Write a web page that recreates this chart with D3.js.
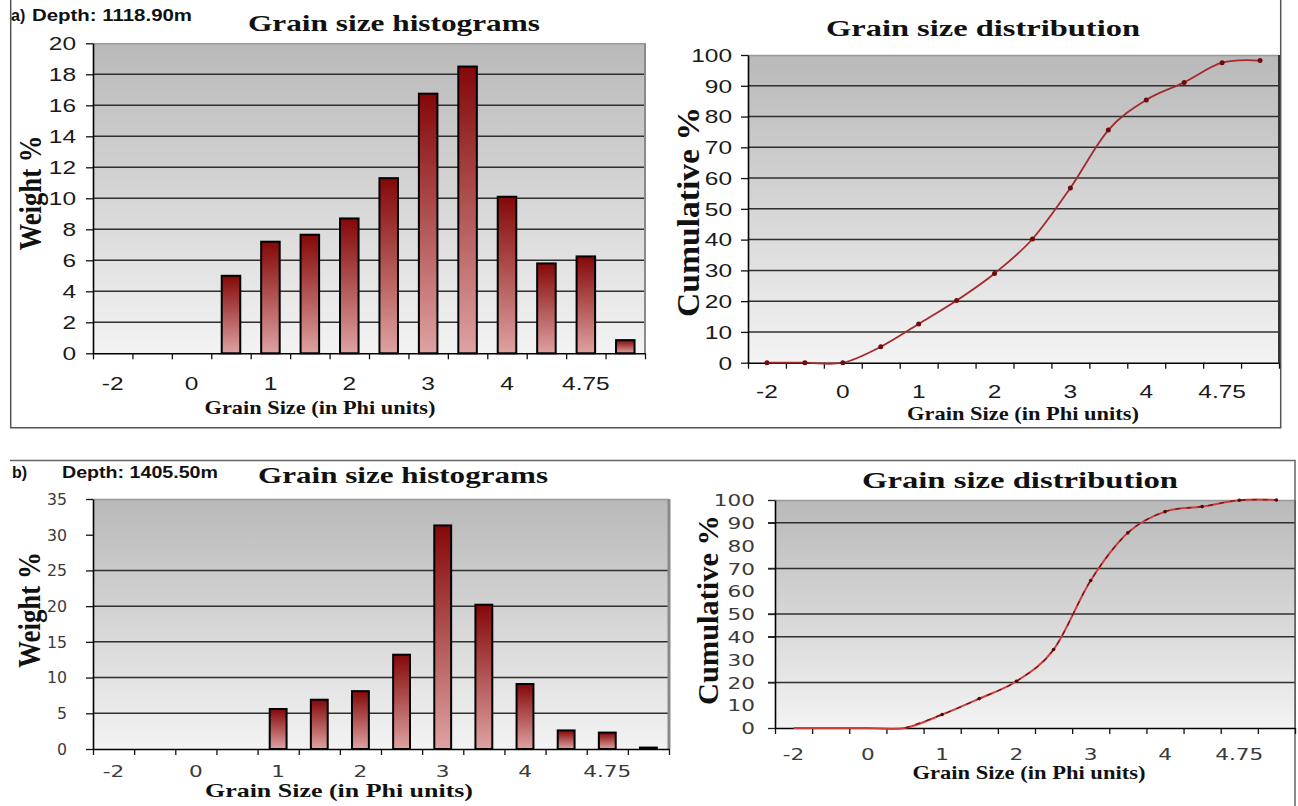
<!DOCTYPE html>
<html><head><meta charset="utf-8">
<script src="https://cdn.jsdelivr.net/npm/d3@7"></script>
<style>body{margin:0;background:#fff;} svg{display:block;}</style>
</head><body>
<svg id="fig" width="1298" height="806"></svg>
<script>
// ---------- data ----------
const categories = ["-2","-1","0","0.5","1","1.5","2","2.5","3","3.5","4","4.5","4.75","pan"];
const shownTickLabels = ["-2","0","1","2","3","4","4.75"];
const weightA = [0,0,0,5.0,7.2,7.65,8.7,11.3,16.75,18.5,10.1,5.8,6.25,0.85];
const cumulativeA = [0,0,0,5.2,12.6,20.2,29.0,40.2,56.8,75.6,85.4,91.1,97.5,98.2];
const weightB = [0,0,0,0,5.6,6.9,8.1,13.2,31.3,20.2,9.1,2.6,2.3,0.2];
const cumulativeB = [0,0,0,0,5.9,12.9,20.5,34.4,64.7,85.6,94.9,97.1,99.9,100];
const yTicksHistA = [0,2,4,6,8,10,12,14,16,18,20];
const yTicksCumA = [0,10,20,30,40,50,60,70,80,90,100];
const yTicksHistB = [0,5,10,15,20,25,30,35];
const yTicksCumB = [0,10,20,30,40,50,60,70,80,90,100];
const gridHistA = [2,4,6,8,10,12,14,16,18];
const gridCumA = [10,20,30,40,50,60,70,80,90];
const gridHistB = [5,10,15,20,25];
const gridCumB = [20,40,50,70,90];
const tickMarksCumB = [0,20,40,50,70,90,100];

const svg = d3.select("#fig");
const defs = svg.append("defs");
const bg = defs.append("linearGradient").attr("id","bgGrad").attr("x1",0).attr("y1",0).attr("x2",0).attr("y2",1);
bg.append("stop").attr("offset","0%").attr("stop-color","#b9b9b9");
bg.append("stop").attr("offset","100%").attr("stop-color","#f3f3f3");
const bgr = defs.append("linearGradient").attr("id","barGrad").attr("x1",0).attr("y1",0).attr("x2",0).attr("y2",1);
bgr.append("stop").attr("offset","0%").attr("stop-color","#840808");
bgr.append("stop").attr("offset","100%").attr("stop-color","#dfa2a2");

function stretch(sel, sx){
  sel.each(function(){
    const t = d3.select(this);
    const x = +t.attr("x")||0, y = +t.attr("y")||0;
    t.attr("x",0).attr("y",0).attr("transform",`translate(${x},${y}) scale(${sx},1)`);
  });
}

function chart(cfg){
  const g = svg.append("g").attr("transform",`translate(${cfg.left},${cfg.top})`);
  const W = cfg.width, H = cfg.height;
  const y = d3.scaleLinear().domain([0,cfg.yMax]).range([H,0]);
  g.append("rect").attr("width",W).attr("height",H).attr("fill","url(#bgGrad)");
  g.selectAll("line.grid").data(cfg.grid).join("line").attr("class","grid")
    .attr("x1",cfg.gridStart||0).attr("x2",W).attr("y1",d=>y(d)).attr("y2",d=>y(d))
    .attr("stroke","#2f2f2f").attr("stroke-width",1.5);
  g.append("line").attr("x1",0).attr("x2",W).attr("y1",0.5).attr("y2",0.5)
    .attr("stroke",cfg.topColor||"#999").attr("stroke-width",1.5);
  g.append("line").attr("x1",W).attr("x2",W).attr("y1",0).attr("y2",H)
    .attr("stroke",cfg.rightColor).attr("stroke-width",cfg.rightWidth);

  // x tick marks at category boundaries
  const xi = d3.scaleLinear().domain([0,categories.length]).range([0,W]);
  g.append("g").attr("transform",`translate(0,${H})`)
    .call(d3.axisBottom(xi).tickValues(d3.range(categories.length+1)).tickSize(6).tickSizeOuter(0).tickFormat(""))
    .call(s=>s.selectAll("line").attr("stroke","#111").attr("stroke-width",1.3))
    .call(s=>s.select(".domain").attr("stroke","#000").attr("stroke-width",1.6));

  // x labels
  const band = d3.scaleBand().domain(categories).range([0,W]);
  const xl = g.append("g").attr("transform",`translate(0,${H})`)
    .call(d3.axisBottom(band).tickValues(shownTickLabels).tickSize(0));
  xl.select(".domain").remove();
  xl.selectAll("text").attr("y",cfg.xLabelBase - (cfg.top+H)).attr("dy",0)
    .attr("font-family",cfg.tickFont).attr("font-size",cfg.tickSize).attr("fill",cfg.tickColor);
  stretch(xl.selectAll("text"), cfg.tickStretch);

  // y axis
  const ya = g.append("g")
    .call(d3.axisLeft(y).tickValues(cfg.yTicks).tickSize(cfg.yTickMarks?0:7).tickSizeOuter(0));
  ya.select(".domain").attr("stroke","#000").attr("stroke-width",1.6);
  ya.selectAll("line").attr("stroke","#111").attr("stroke-width",1.3);
  ya.selectAll("text").attr("x",cfg.yLabelOffset).attr("dy","0.36em")
    .attr("font-family",cfg.tickFont).attr("font-size",cfg.yTickSize||cfg.tickSize).attr("fill",cfg.tickColor);
  stretch(ya.selectAll("text"), cfg.yStretch||cfg.tickStretch);
  if(cfg.yTickMarks){
    g.append("g").call(d3.axisLeft(y).tickValues(cfg.yTickMarks).tickSize(7).tickSizeOuter(0).tickFormat(""))
      .call(s=>s.select(".domain").remove())
      .call(s=>s.selectAll("line").attr("stroke","#222").attr("stroke-width",1.3));
  }

  if(cfg.type==="bar"){
    const b = d3.scaleBand().domain(categories).range([0,W]).paddingInner(cfg.pad).paddingOuter(cfg.pad/2);
    const data = cfg.values.map((v,i)=>({c:categories[i],v})).filter(d=>d.v>0);
    g.selectAll("rect.bar").data(data).join("rect").attr("class","bar")
      .attr("x",d=>b(d.c)).attr("y",d=>y(d.v)).attr("width",b.bandwidth()).attr("height",d=>H-y(d.v))
      .attr("fill","url(#barGrad)").attr("stroke","#000").attr("stroke-width",2);
  } else {
    const p = d3.scalePoint().domain(categories).range([0,W]).padding(0.5);
    const data = cfg.values.map((v,i)=>({c:categories[i],v}));
    const line = d3.line().x(d=>p(d.c)).y(d=>y(d.v)).curve(d3.curveCatmullRom.alpha(0));
    g.append("path").datum(data).attr("d",line).attr("fill","none")
      .attr("stroke",cfg.lineColor).attr("stroke-width",cfg.lineWidth);
    if(cfg.dashOverlay){
      g.append("path").datum(data.slice(3)).attr("d",line).attr("fill","none")
        .attr("stroke","#5a1212").attr("stroke-width",1.1).attr("stroke-dasharray","5,6");
    }
    g.selectAll("circle.pt").data(cfg.markerData? data.filter((d,i)=>cfg.markerData(i)) : data).join("circle")
      .attr("class","pt").attr("cx",d=>p(d.c)).attr("cy",d=>y(d.v)).attr("r",cfg.markerR)
      .attr("fill",cfg.markerColor);
  }
}

function addText(x,y,str,o){
  const t = svg.append("text").attr("x",x).attr("y",y).text(str)
    .attr("font-family",o.font).attr("font-size",o.size).attr("font-weight",o.weight||"bold")
    .attr("fill",o.fill||"#111").attr("text-anchor",o.anchor||"start");
  if(o.len) t.attr("textLength",o.len).attr("lengthAdjust","spacingAndGlyphs");
  if(o.rotate) t.attr("x",0).attr("y",0).attr("transform",`translate(${x},${y}) rotate(-90)`);
  return t;
}

// panel frames
svg.append("path").attr("d","M10.7,0 V427.7 H1280.7 V0").attr("fill","none").attr("stroke","#555").attr("stroke-width",1.5);
svg.append("path").attr("d","M10,460.5 H1295 V806").attr("fill","none").attr("stroke","#666").attr("stroke-width",1.5);

const sansA = {tickFont:"Liberation Sans, Arial, sans-serif", tickSize:17.5, tickColor:"#1a1a1a", tickStretch:1.4};
const sansB = {tickFont:"DejaVu Sans, sans-serif", tickSize:16, tickColor:"#3a3a3a", tickStretch:1.35};

chart(Object.assign({type:"bar", left:93, top:43.3, width:552, height:310, yMax:20, yTicks:yTicksHistA, grid:gridHistA,
  values:weightA, pad:0.53, rightColor:"#8a8a8a", rightWidth:2, xLabelBase:390, yLabelOffset:-17}, sansA));
chart(Object.assign({type:"line", left:748, top:55, width:531, height:307.7, yMax:100, yTicks:yTicksCumA, grid:gridCumA,
  values:cumulativeA, rightColor:"#333", rightWidth:2, xLabelBase:398, yLabelOffset:-16,
  lineColor:"#a32b2b", lineWidth:1.8, markerR:2.5, markerColor:"#6e0d0d"}, sansA));
chart(Object.assign({type:"bar", left:93, top:499, width:576, height:250, yMax:35, yTicks:yTicksHistB, grid:gridHistB,
  values:weightB, pad:0.59, rightColor:"#8a8a8a", rightWidth:3, xLabelBase:777, yLabelOffset:-26, yStretch:1.05, yTickSize:15}, sansB));
chart(Object.assign({type:"line", left:775, top:500, width:520, height:228, yMax:100, yTicks:yTicksCumB, grid:gridCumB,
  gridStart:-7, yTickMarks:tickMarksCumB, values:cumulativeB, rightColor:"#555", rightWidth:1.5, xLabelBase:760, yLabelOffset:-20,
  lineColor:"#d13c3c", lineWidth:2, dashOverlay:true, markerR:1.8, markerColor:"#4d0c0c", markerData:i=>i>=4}, sansB));

const serif = "Liberation Serif, Times New Roman, serif";
const sans = "Liberation Sans, Arial, sans-serif";
// panel a texts
addText(11,21,"a)",{font:sans,size:16});
addText(32,21,"Depth: 1118.90m",{font:sans,size:16,len:160});
addText(394,31,"Grain size histograms",{font:serif,size:24,anchor:"middle",len:292});
addText(983,36,"Grain size distribution",{font:serif,size:24,anchor:"middle",len:314});
addText(320,414,"Grain Size (in Phi units)",{font:serif,size:19.5,anchor:"middle",len:231});
addText(1023,420,"Grain Size (in Phi units)",{font:serif,size:19.5,anchor:"middle",len:232});
addText(41,193,"Weight %",{font:serif,size:32,anchor:"middle",len:115,rotate:true});
addText(699,212,"Cumulative %",{font:serif,size:31,anchor:"middle",len:210,rotate:true});
// panel b texts
addText(12,478,"b)",{font:sans,size:16});
addText(62,478,"Depth: 1405.50m",{font:sans,size:16,len:156});
addText(403,483,"Grain size histograms",{font:serif,size:24,anchor:"middle",len:290});
addText(1020,488,"Grain size distribution",{font:serif,size:24,anchor:"middle",len:316});
addText(339,797,"Grain Size (in Phi units)",{font:serif,size:19.5,anchor:"middle",len:268});
addText(1029,779,"Grain Size (in Phi units)",{font:serif,size:19.5,anchor:"middle",len:233});
addText(40,610,"Weight %",{font:serif,size:31,anchor:"middle",len:116,rotate:true});
addText(718,610,"Cumulative %",{font:serif,size:30,anchor:"middle",len:190,rotate:true});
</script>
</body></html>
